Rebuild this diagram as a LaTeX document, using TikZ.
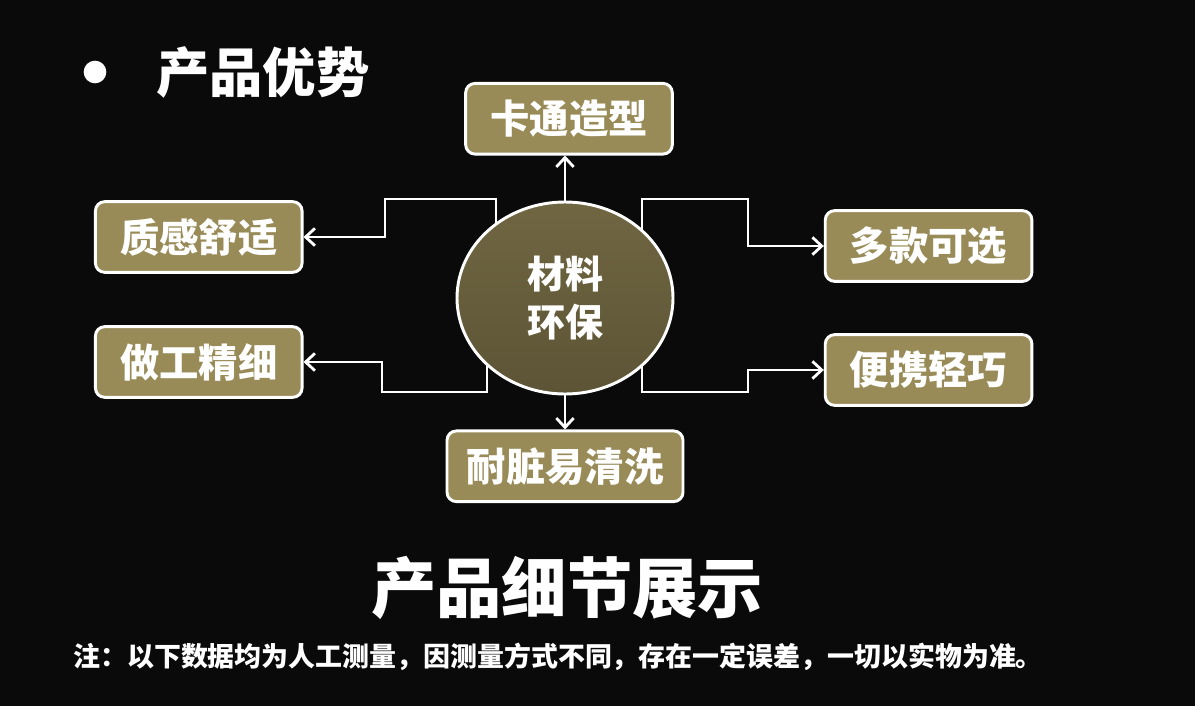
\documentclass[tikz,border=0pt]{standalone}
\usepackage{fontspec}
\setmainfont{Noto Sans CJK SC}
\usetikzlibrary{arrows.meta,positioning,shapes.geometric,backgrounds}
\definecolor{boxolive}{RGB}{152,139,88}
\definecolor{coretop}{RGB}{112,102,66}
\definecolor{corebot}{RGB}{92,84,53}
\definecolor{pagebg}{RGB}{10,10,10}

\begin{document}
\begin{tikzpicture}[
  x=0.75pt, y=-0.75pt,
  font=\bfseries,
  feat/.style={draw=white, line width=2.2pt, rounded corners=7pt, fill=boxolive,
    minimum width=155pt, minimum height=53pt, text=white, inner sep=2pt,
    font=\bfseries\fontsize{29.5}{33}\selectfont},
  core/.style={ellipse, draw=white, line width=2.2pt, top color=coretop,
    bottom color=corebot, text=white, minimum width=162pt, minimum height=144pt,
    inner sep=0pt, align=center, font=\bfseries\fontsize{28.5}{36}\selectfont},
  link/.style={-{Straight Barb[length=7pt,width=13pt]}, draw=white, line width=2.1pt}
]
  \node[circle, fill=white, minimum size=17pt, inner sep=0pt] (dot) at (95,72) {};
  \node[anchor=west, inner sep=0pt, text=white,
    font=\bfseries\fontsize{40}{44}\selectfont] (title) at (156,72) {产品优势};

  \node[core] (circ) at (565,298) {材料\\环保};
  \node[feat, above=33.75pt of circ, xshift=3pt] (cartoon) {卡通造型};
  \node[feat, minimum width=177pt, below=25.5pt of circ] (clean) {耐脏易清洗};
  \node[feat, left=114pt of circ, yshift=45.75pt] (comfort) {质感舒适};
  \node[feat, left=114pt of circ, yshift=-48pt] (craft) {做工精细};
  \node[feat, right=112pt of circ, yshift=39pt] (choice) {多款可选};
  \node[feat, right=112pt of circ, yshift=-54pt] (light) {便携轻巧};

  \node[text=white, inner sep=0pt,
    font=\bfseries\fontsize{49}{54}\selectfont] (detail) at (567,588) {产品细节展示};
  \node[anchor=west, inner sep=0pt, text=white,
    font=\bfseries\fontsize{20.2}{24}\selectfont] (note) at (73,657)
    {注：以下数据均为人工测量，因测量方式不同，存在一定误差，一切以实物为准。};

  \begin{pgfonlayer}{background}
    \fill[pagebg] (0,0) rectangle (1195,706);
    \draw[link] (circ) -- (circ.north |- cartoon.south);
    \draw[link] (circ) -- (clean);
    \draw[link] ([xshift=-51.75pt]circ.center) |- ([xshift=-135pt,yshift=74.25pt]circ.center) |- (comfort.east);
    \draw[link] ([xshift=-58.5pt]circ.center) |- ([xshift=-137.25pt,yshift=-70.5pt]circ.center) |- (craft.east);
    \draw[link] ([xshift=57.75pt]circ.center) |- ([xshift=137.25pt,yshift=74.25pt]circ.center) |- (choice.west);
    \draw[link] ([xshift=57.75pt]circ.center) |- ([xshift=137.25pt,yshift=-70.5pt]circ.center) |- (light.west);
  \end{pgfonlayer}
\end{tikzpicture}
\end{document}
